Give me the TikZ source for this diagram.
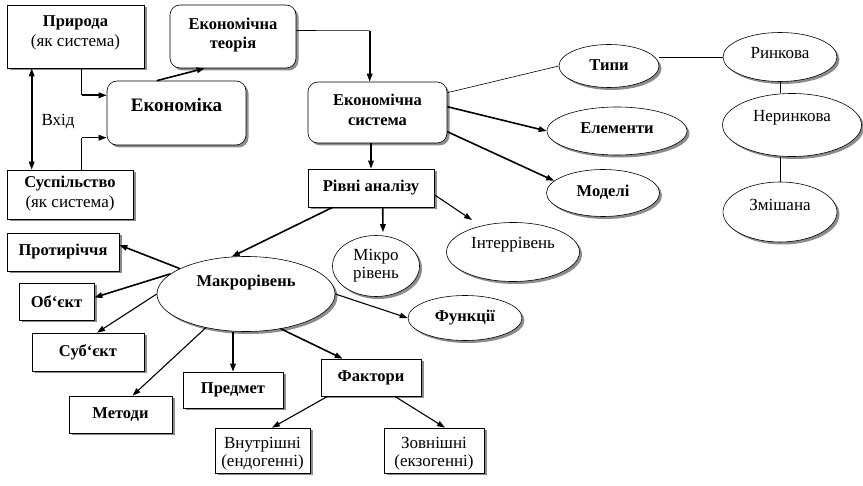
\documentclass[tikz,border=0pt]{standalone}
\usepackage{fontspec}
\setmainfont{Liberation Serif}
\usetikzlibrary{arrows.meta,shapes.geometric,shadows,calc}
\tikzset{
  shd/.style={drop shadow={shadow xshift=2.5pt,shadow yshift=-2.5pt,fill=black!45,opacity=1}},
  rbox/.style={draw,fill=white,shd,line width=0.6pt,inner sep=0pt,align=center},
  rrbox/.style={rbox,rounded corners=10pt},
  ell/.style={draw,fill=white,ellipse,shd,line width=0.6pt,inner sep=0pt,align=center},
  txt/.style={inner sep=0pt,align=center,font=\fontsize{17}{20}\selectfont},
  btxt/.style={txt,font=\fontsize{16.5}{19.5}\selectfont\bfseries},
  thin/.style={line width=0.6pt},
  thk/.style={line width=1.6pt,-{Triangle[length=8pt,width=5.5pt]}},
  med/.style={line width=1.1pt,-{Triangle[length=8pt,width=5.5pt]}},
}
\begin{document}
\begin{tikzpicture}[x=1pt,y=-1pt]
\useasboundingbox (0,0) rectangle (863,486);
% shapes
\node[rbox,minimum width=137pt,minimum height=63pt] (prir) at (75.5,36.5) {};
\node[rrbox,minimum width=126pt,minimum height=63pt] (teor) at (233,36.5) {};
\node[rrbox,minimum width=139pt,minimum height=64pt] (ekon) at (176.5,113) {};
\node[rbox,minimum width=126pt,minimum height=49pt] (susp) at (70,194.5) {};
\node[rrbox,minimum width=139pt,minimum height=61pt] (esys) at (377.5,112.5) {};
\node[rbox,minimum width=126pt,minimum height=38pt] (rivni) at (371,188) {};
\node[ell,minimum width=100pt,minimum height=43pt] (typy) at (609,66) {};
\node[ell,minimum width=140pt,minimum height=48pt] (elem) at (617,131) {};
\node[ell,minimum width=113pt,minimum height=47pt] (model) at (603,193) {};
\node[ell,minimum width=114pt,minimum height=49pt] (rynk) at (780,57) {};
\node[ell,minimum width=139pt,minimum height=63pt] (neryn) at (792,125) {};
\node[ell,minimum width=114pt,minimum height=60pt] (zmish) at (780,212) {};
\node[ell,minimum width=178pt,minimum height=75pt] (makro) at (246,294) {};
\node[ell,minimum width=87pt,minimum height=61pt] (mikro) at (376,266) {};
\node[ell,minimum width=133pt,minimum height=59pt] (inter) at (513,252) {};
\node[ell,minimum width=114pt,minimum height=45pt] (funk) at (465,318) {};
\node[rbox,minimum width=112pt,minimum height=38pt] (prot) at (63,252) {};
\node[rbox,minimum width=75pt,minimum height=37pt] (obj) at (56.5,301.5) {};
\node[rbox,minimum width=112pt,minimum height=38pt] (subj) at (88,352) {};
\node[rbox,minimum width=103pt,minimum height=37pt] (metod) at (120.5,414.5) {};
\node[rbox,minimum width=100pt,minimum height=36pt] (predm) at (233,390) {};
\node[rbox,minimum width=100pt,minimum height=37pt] (fakt) at (371,377.5) {};
\node[rbox,minimum width=95pt,minimum height=45pt] (vnutr) at (262.5,450.5) {};
\node[rbox,minimum width=100pt,minimum height=45pt] (zovn) at (434,450.5) {};
% texts
\node[txt] (prirT) at (75.5,33) {{\fontsize{16.5}{20}\selectfont\bfseries Природа}\\(як система)};
\node[btxt] (teorT) at (233,35) {Економічна\\теорія};
\node[btxt,font=\fontsize{19}{22}\selectfont\bfseries] (ekonT) at (176.5,105) {Економіка};
\node[txt] (suspT) at (70,194) {{\fontsize{16.5}{20}\selectfont\bfseries Суспільство}\\(як система)};
\node[txt] (vhid) at (58,122) {Вхід};
\node[btxt] (esysT) at (377.5,110) {Економічна\\система};
\node[btxt] (rivniT) at (371,188) {Рівні аналізу};
\node[btxt] (typyT) at (609,65) {Типи};
\node[btxt] (elemT) at (617,128) {Елементи};
\node[btxt] (modelT) at (603,192) {Моделі};
\node[txt] (rynkT) at (780,53) {Ринкова};
\node[txt] (nerynT) at (792,118) {Неринкова};
\node[txt] (zmishT) at (780,205) {Змішана};
\node[btxt] (makroT) at (246,283) {Макрорівень};
\node[txt,font=\fontsize{17}{18}\selectfont] (mikroT) at (376,266) {Мікро\\рівень};
\node[txt] (interT) at (513,245) {Інтеррівень};
\node[btxt] (funkT) at (465,318) {Функції};
\node[btxt] (protT) at (63,252) {Протиріччя};
\node[btxt] (objT) at (56.5,301.5) {Об‘єкт};
\node[btxt] (subjT) at (88,352) {Суб‘єкт};
\node[btxt] (metodT) at (120.5,414.5) {Методи};
\node[btxt] (predmT) at (233,390) {Предмет};
\node[btxt] (faktT) at (371,377.5) {Фактори};
\node[txt,font=\fontsize{17}{18}\selectfont] (vnutrT) at (262.5,454) {Внутрішні\\(ендогенні)};
\node[txt,font=\fontsize{17}{18}\selectfont] (zovnT) at (434,454) {Зовнішні\\(екзогенні)};
% connectors
\draw[line width=1.6pt,{Triangle[length=8pt,width=5.5pt]}-{Triangle[length=8pt,width=5.5pt]}]
  ($(prir.south west)+(25,0)$) -- ($(susp.north west)+(25,0)$);
\draw[thin] ($(prir.south west)+(75,0)$) -- ($(prir.south west)+(75,27)$) coordinate (c1);
\draw[thk] (c1) -- (c1 -| ekon.west);
\draw[thin] ($(susp.north west)+(75,0)$) -- ($(susp.north west)+(75,-32)$) coordinate (c2);
\draw[thk] (c2) -- (c2 -| ekon.west);
\draw[thk] ($(ekon.north west)+(50,0)$) -- ($(teor.south west)+(35,0)$);
\draw[thin] ($(teor.east)+(0,-6)$) -- ($(esys.north west)+(62,-51)$) coordinate (c3);
\draw[thk] (c3) -- ($(esys.north west)+(62,0)$);
\draw[thk] (esys.south -| rivni.north) -- (rivni.north);
\draw[thin] ($(esys.north east)+(0,11)$) -- (typy.west);
\draw[thk] ($(esys.north east)+(0,25)$) -- (elem.west);
\draw[thk] ($(esys.north east)+(0,50)$) -- (model.166);
\draw[thin] (rynk.west) -- (typy.east |- rynk.west);
\draw[thin] (rynk.south) -- (rynk.south |- neryn.north);
\draw[thin] (zmish.north) -- (zmish.north |- neryn.south);
\draw[thk] ($(rivni.south west)+(25,0)$) -- (makro.111);
\draw[thk] ($(rivni.south west)+(75,0)$) -- ($(mikro.north)+(7,-3)$);
\draw[med] ($(rivni.north east)+(0,26)$) -- ($(inter.center)+(-41,-32)$);
\draw[thk] (makro.159) -- ($(prot.east)+(0,-7)$);
\draw[thk] (makro.165) -- ($(obj.east)+(0,-4)$);
\draw[med] (makro.west) -- ($(subj.north)+(9,0)$);
\draw[med] (makro.220) -- ($(metod.north)+(12,0)$);
\draw[thk] (predm.north |- makro.south) -- (predm.north);
\draw[thk] (makro.315) -- ($(fakt.north west)+(22,0)$);
\draw[med] (makro.east) -- (funk.west);
\draw[med] ($(fakt.south west)+(7,0)$) -- ($(vnutr.north)+(9.5,0)$);
\draw[med] ($(fakt.south west)+(74,0)$) -- ($(zovn.north)+(11,0)$);
\end{tikzpicture}
\end{document}
